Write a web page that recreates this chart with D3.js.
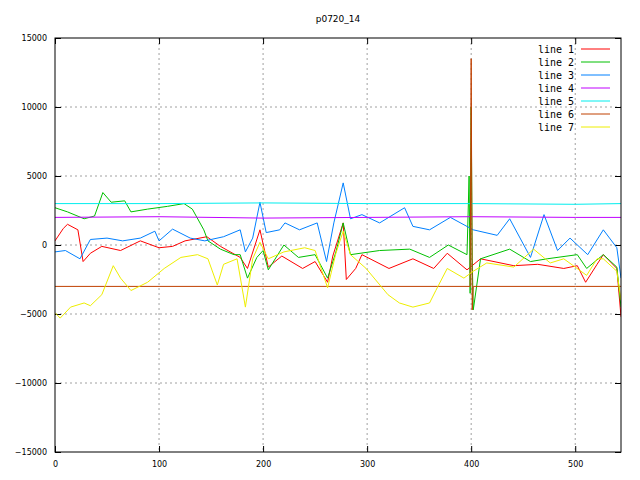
<!DOCTYPE html>
<html><head><meta charset="utf-8">
<script src="https://cdn.jsdelivr.net/npm/d3@7"></script>
<style>body{margin:0;background:#fff}text{font-family:"DejaVu Sans",sans-serif}text.mono{font-family:"DejaVu Sans Mono",monospace}</style>
</head><body><svg id="c" width="640" height="480"></svg>
<script>
// values, [x, y]
const line1 = [[0,300],[8,1200],[12,1500],[22,1100],[27,-1200],[34,-600],[45,-100],[63,-400],[82,300],[100,-200],[113,-100],[125,300],[146,600],[159,-100],[178,-900],[185,-1700],[197,1100],[205,-1600],[218,-800],[238,-1700],[250,-1200],[262,-2700],[267,-800],[277,1600],[280,-2500],[289,-1700],[295,-700],[321,-1700],[344,-1000],[364,-1700],[377,-600],[396,-1800],[409,-1000],[441,-1500],[464,-1400],[489,-1700],[502,-1500],[510,-2700],[521,-1400],[527,-700],[540,-1700],[544,-5200]];
const line2 = [[0,2700],[12,2400],[28,1900],[38,2100],[46,3800],[54,3100],[67,3200],[73,2400],[89,2600],[108,2800],[124,3000],[132,2600],[143,1100],[147,300],[159,-300],[172,-700],[178,-700],[185,-2400],[194,-900],[200,-400],[205,-1800],[220,0],[234,-900],[250,-700],[262,-2400],[270,-500],[277,1600],[284,-700],[312,-400],[341,-300],[360,-900],[378,0],[396,-700],[398,5000],[399,-3500],[400,10000],[401,-1000],[402,-4700],[409,-1000],[437,-300],[457,-1200],[473,-1000],[502,-700],[511,-1700],[527,-700],[540,-1600],[544,-4500]];
const line3 = [[0,-500],[10,-400],[24,-1000],[34,400],[50,500],[65,300],[82,500],[96,1000],[100,300],[113,1150],[130,500],[144,300],[162,600],[178,1100],[183,-500],[190,500],[197,3100],[203,900],[216,1100],[221,1600],[235,1100],[252,1600],[261,-1200],[268,1600],[277,4500],[284,1900],[295,2200],[312,1600],[336,2700],[344,1350],[360,1100],[380,2000],[402,1100],[425,700],[437,1900],[457,-900],[470,2200],[483,-400],[495,500],[512,-700],[527,1100],[540,-200],[544,-2400]];
const line4 = [[0,2000],[100,2050],[200,1950],[300,2000],[400,2050],[500,2000],[544,2000]];
const line5 = [[0,3000],[100,3000],[200,3050],[300,3000],[400,3000],[500,2950],[544,3000]];
const line6 = [[0,-3000],[100,-3000],[200,-3000],[300,-3000],[399,-3000],[400,13500],[401,-4700],[402,-3000],[500,-3000],[544,-3000]];
const line7 = [[0,-4900],[5,-5300],[15,-4500],[28,-4200],[34,-4400],[45,-3600],[56,-1500],[63,-2400],[73,-3300],[89,-2700],[105,-1700],[121,-900],[137,-700],[147,-1000],[156,-2900],[162,-1400],[175,-1000],[183,-4500],[190,-1000],[197,200],[205,-1000],[220,-500],[240,-200],[250,-400],[262,-3100],[270,-600],[277,1000],[284,-700],[299,-1700],[320,-3600],[331,-4200],[344,-4500],[360,-4200],[366,-3300],[377,-1700],[393,-2400],[402,-1900],[415,-1300],[441,-1600],[460,-300],[476,-1300],[489,-1000],[511,-2200],[521,-1000],[527,-1000],[540,-1900],[544,-4000]];
const series = [line1, line2, line3, line4, line5, line6, line7];
const names = ["line 1","line 2","line 3","line 4","line 5","line 6","line 7"];
const colors = ["#ff0000","#00c000","#0080ff","#c000ff","#00eeee","#c04000","#eeee00"];
const xTicks = [0,100,200,300,400,500];
const yTicks = [-15000,-10000,-5000,0,5000,10000,15000];

const svg = d3.select("#c");
const L = 55, R = 621, T = 38, B = 452;
const x = d3.scaleLinear().domain([0,544]).range([L,R]);
const y = d3.scaleLinear().domain([-15000,15000]).range([B,T]);

// grid
svg.append("g").selectAll("line").data(xTicks.slice(1)).join("line")
  .attr("x1",d=>x(d)).attr("x2",d=>x(d)).attr("y1",T).attr("y2",B)
  .attr("stroke","#a0a0a0").attr("stroke-dasharray","2,3");
svg.append("g").selectAll("line").data(yTicks.slice(1,-1)).join("line")
  .attr("x1",L).attr("x2",R).attr("y1",d=>y(d)).attr("y2",d=>y(d))
  .attr("stroke","#a0a0a0").attr("stroke-dasharray","2,3");

// axes, gnuplot style ticks inward
const fmt = d3.format("d");
const ax = d3.axisBottom(x).tickValues(xTicks).tickFormat(fmt).tickSize(-6).tickPadding(9);
svg.append("g").attr("transform",`translate(0,${B})`).call(ax)
  .call(g=>g.select(".domain").remove()).selectAll("text").attr("font-size",8);
const ay = d3.axisLeft(y).tickValues(yTicks).tickFormat(fmt).tickSize(-6).tickPadding(8);
svg.append("g").attr("transform",`translate(${L},0)`).call(ay)
  .call(g=>g.select(".domain").remove()).selectAll("text").attr("font-size",8);
svg.append("g").attr("transform",`translate(${R},0)`).call(d3.axisRight(y).tickValues(yTicks).tickSize(-6).tickFormat(""))
  .call(g=>g.select(".domain").remove());
svg.append("g").attr("transform",`translate(0,${T})`).call(d3.axisTop(x).tickValues(xTicks).tickSize(-6).tickFormat(""))
  .call(g=>g.select(".domain").remove());

svg.append("clipPath").attr("id","pc").append("rect")
  .attr("x",L).attr("y",T).attr("width",R-L).attr("height",B-T);
const line = d3.line().x(d=>x(d[0])).y(d=>y(d[1]));
svg.append("g").attr("clip-path","url(#pc)").selectAll("path").data(series).join("path")
  .attr("d",line).attr("fill","none").attr("stroke",(d,i)=>colors[i]).attr("stroke-width",1);

svg.append("rect").attr("x",L).attr("y",T).attr("width",R-L).attr("height",B-T)
  .attr("fill","none").attr("stroke","#000");

svg.append("text").attr("x",338).attr("y",22).attr("text-anchor","middle").attr("font-size",9).text("p0720_14");

const leg = svg.append("g").selectAll("g").data(names).join("g")
  .attr("transform",(d,i)=>`translate(0,${49+i*13})`);
leg.append("text").attr("class","mono").attr("x",574).attr("y",4).attr("text-anchor","end")
  .attr("font-size",10).text(d=>d);
leg.append("line").attr("x1",581).attr("x2",610).attr("stroke",(d,i)=>colors[i]);
</script></body></html>
